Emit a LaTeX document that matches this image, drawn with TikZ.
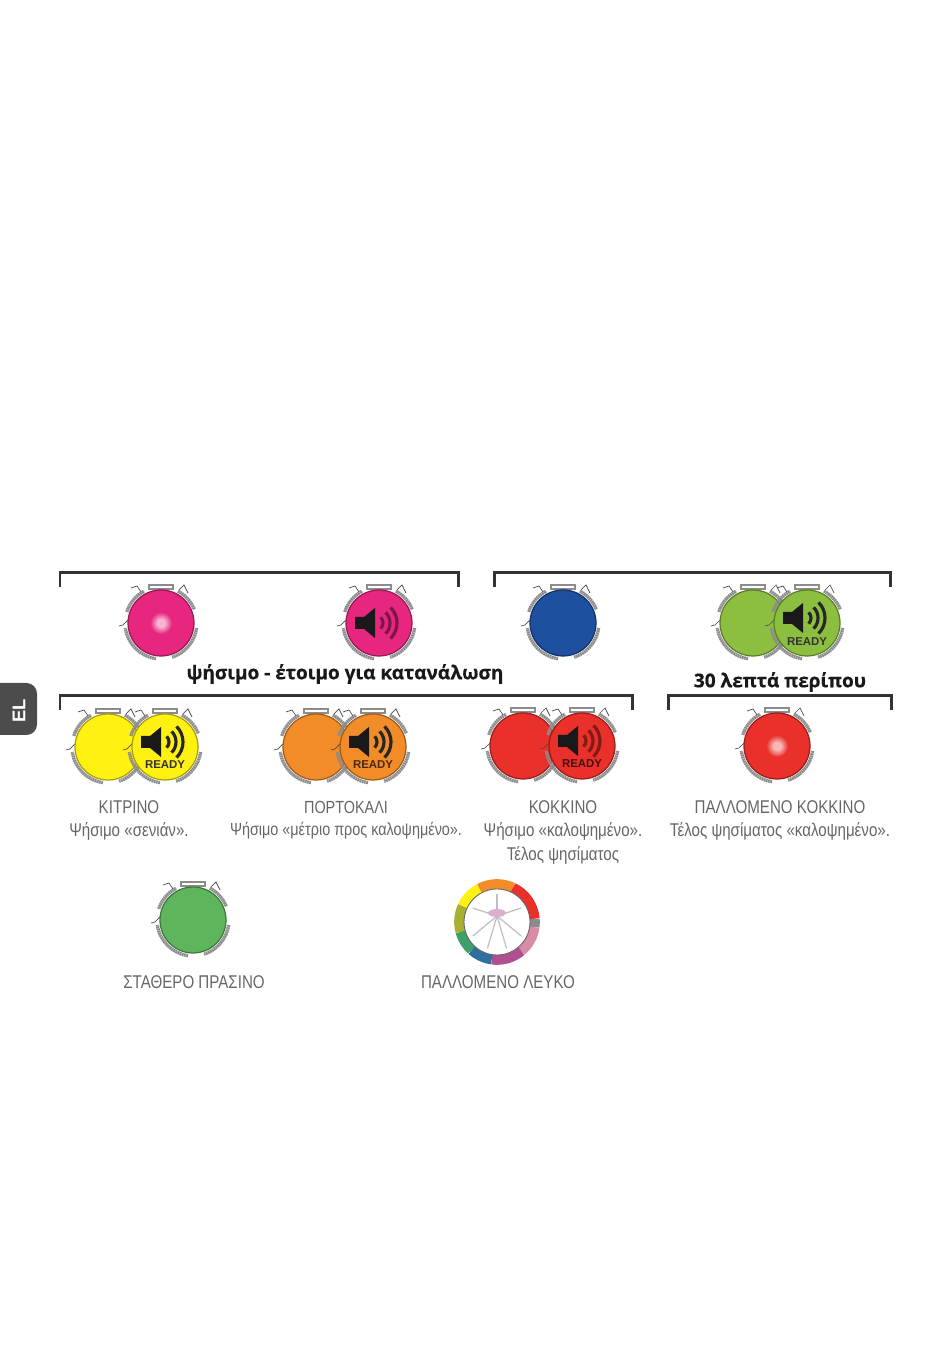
\documentclass[tikz,border=0pt]{standalone}
\usepackage{fontspec}
\setmainfont{Liberation Sans}
\newfontfamily\labelfont[FakeStretch=0.82]{Liberation Sans}
\newfontfamily\headfont[FakeBold=0.6]{Open Sans}
\definecolor{lamppink}{HTML}{E6267F}
\definecolor{lampblue}{HTML}{1F4F9F}
\definecolor{lamplime}{HTML}{8CBF3F}
\definecolor{lampyellow}{HTML}{FFF212}
\definecolor{lamporange}{HTML}{F28C28}
\definecolor{lampred}{HTML}{E9302A}
\definecolor{lampgreen}{HTML}{5FB55C}
\definecolor{ringgray}{HTML}{8C8C8C}
\definecolor{textgray}{HTML}{666666}
\definecolor{wheelsea}{HTML}{3F9F6A}
\definecolor{wheelsky}{HTML}{2F6FA0}
\definecolor{wheelolive}{HTML}{A8B030}
\definecolor{wheelplum}{HTML}{B04F8F}
\definecolor{wheelrose}{HTML}{D98CA8}
\tikzset{
  bracket/.style={line width=1.7pt,draw=black!80},
  headtext/.style={font=\headfont\fontsize{10.8}{13}\bfseries\selectfont,text=black!90,inner sep=0pt},
  labeltext/.style={font=\labelfont\fontsize{10.5}{12}\selectfont,text=textgray,inner sep=0pt},
  readytext/.style={font=\fontsize{6.5}{7}\bfseries\selectfont,inner sep=0pt},
  ringdash/.style={ringgray,line width=1.9pt,dash pattern=on 1pt off .3pt},
}
% lamp: position, colour
\newcommand{\lamp}[2]{
\begin{scope}[shift={(#1)}]
\draw[ringdash] (162:36) arc(162:118:36);
\draw[ringdash] (62:36) arc(62:22:36);
\draw[ringdash] (-8:36) arc(-8:-72:36);
\draw[ringdash] (-98:36) arc(-98:-172:36);
\draw[black!70,line width=.4pt] (-20,31)--(-24,37)--(-30,35) (18,33)--(23,38)--(27,30);
\draw[black!70,line width=.4pt] (-33,3)--(-38,-2)--(-42,-3);
\draw[draw=ringgray,fill=white,line width=.6pt] (-12,34) rectangle (12,38);
\fill[#2] (0,0) circle(33);
\draw[#2!65!black,line width=.7pt] (0,0) circle(33);
\end{scope}}
% speaker: position, colour of the waves
\newcommand{\sound}[2]{
\begin{scope}[shift={(#1)}]
\fill[black!90] (-24,-6)--(-15,-6)--(-4,-15)--(-4,15)--(-15,6)--(-24,6)--cycle;
\foreach \r in {8,15,22}
  \draw[#2,line width=1.8pt] (-4,0)++(-45:\r) arc(-45:45:\r);
\end{scope}}
% flash: position, colour of the halo
\newcommand{\flash}[2]{
\shade[inner color=white,outer color=#2] (#1) circle(11);
\fill[white!65!#2] (#1) circle(4);}
\begin{document}
\begin{tikzpicture}[x=.02cm,y=.02cm]
\useasboundingbox (0,0) rectangle (950,1351);
% side tab
\fill[black!70,rounded corners=6pt] (-20,616) rectangle (37,668);
\node[rotate=90,text=white,inner sep=0pt,font=\fontsize{10.5}{12}\bfseries\selectfont] (tabel) at (19,640){EL};
% brackets
\draw[bracket] (60,764)--(60,778)--(458,778)--(458,764);
\draw[bracket] (494,764)--(494,778)--(890,778)--(890,764);
\draw[bracket] (60,641)--(60,655)--(632,655)--(632,641);
\draw[bracket] (668,641)--(668,655)--(891,655)--(891,641);
% first row
\lamp{161,728}{lamppink}
\flash{161,728}{lamppink}
\lamp{379,728}{lamppink}
\sound{379,728}{lamppink!55!black}
\lamp{563,728}{lampblue}
\lamp{753,728}{lamplime}
\lamp{807,728}{lamplime}
\sound{807,733}{black!85}
\node[readytext,text=black!80] (readylime) at (807,709){READY};
\node[headtext] (headtoast) at (345,677){ψήσιμο - έτοιμο για κατανάλωση};
\node[headtext] (headtime) at (780,669){30 λεπτά περίπου};
% second row
\lamp{108,604}{lampyellow}
\lamp{165,604}{lampyellow}
\sound{165,609}{black!85}
\node[readytext,text=black!80] (readyyellow) at (165,586){READY};
\lamp{316,604}{lamporange}
\lamp{373,604}{lamporange}
\sound{373,609}{black!85}
\node[readytext,text=lamporange!30!black] (readyorange) at (373,586){READY};
\lamp{523,605}{lampred}
\lamp{582,605}{lampred}
\sound{582,610}{lampred!55!black}
\node[readytext,text=lampred!30!black] (readyred) at (582,587){READY};
\lamp{777,605}{lampred}
\flash{777,605}{lampred}
% labels
\node[labeltext] (yellowname) at (129,544){ΚΙΤΡΙΝΟ};
\node[labeltext] (yellowtext) at (129,520){Ψήσιμο «σενιάν».};
\node[labeltext,font=\labelfont\fontsize{10}{12}\selectfont] (orangename) at (346,544){ΠΟΡΤΟΚΑΛΙ};
\node[labeltext,font=\labelfont\fontsize{10}{12}\selectfont] (orangetext) at (346,520){Ψήσιμο «μέτριο προς καλοψημένο».};
\node[labeltext] (redname) at (563,544){ΚΟΚΚΙΝΟ};
\node[labeltext] (redtext) at (563,520){Ψήσιμο «καλοψημένο».};
\node[labeltext] (redend) at (563,496){Τέλος ψησίματος};
\node[labeltext] (flashname) at (780,544){ΠΑΛΛΟΜΕΝΟ ΚΟΚΚΙΝΟ};
\node[labeltext] (flashtext) at (780,520){Τέλος ψησίματος «καλοψημένο».};
% third row
\lamp{193,431}{lampgreen}
\node[labeltext] (greenname) at (194,369){ΣΤΑΘΕΡΟ ΠΡΑΣΙΝΟ};
\node[labeltext] (whitename) at (498,369){ΠΑΛΛΟΜΕΝΟ ΛΕΥΚΟ};
% colour wheel
\begin{scope}[shift={(497,429)}]
\foreach \a/\b/\c in {118/65/lamporange,65/5/lampred,5/-8/ringgray,-8/-50/wheelrose,-50/-98/wheelplum,-98/-132/wheelsky,-132/-165/wheelsea,-165/-205/wheelolive,-205/-242/lampyellow}
  \draw[\c,line width=5.5pt] (\a:38) arc(\a:\b:38);
\draw[black!60,line width=.5pt] (0,0) circle(33);
\foreach \a in {90,30,150,-30,210,-70,-110}
  \draw[black!25,line width=.7pt] (0,6)--(\a:28);
\fill[wheelplum!45] (0,9) ellipse(9 and 4);
\end{scope}
\end{tikzpicture}
\end{document}
